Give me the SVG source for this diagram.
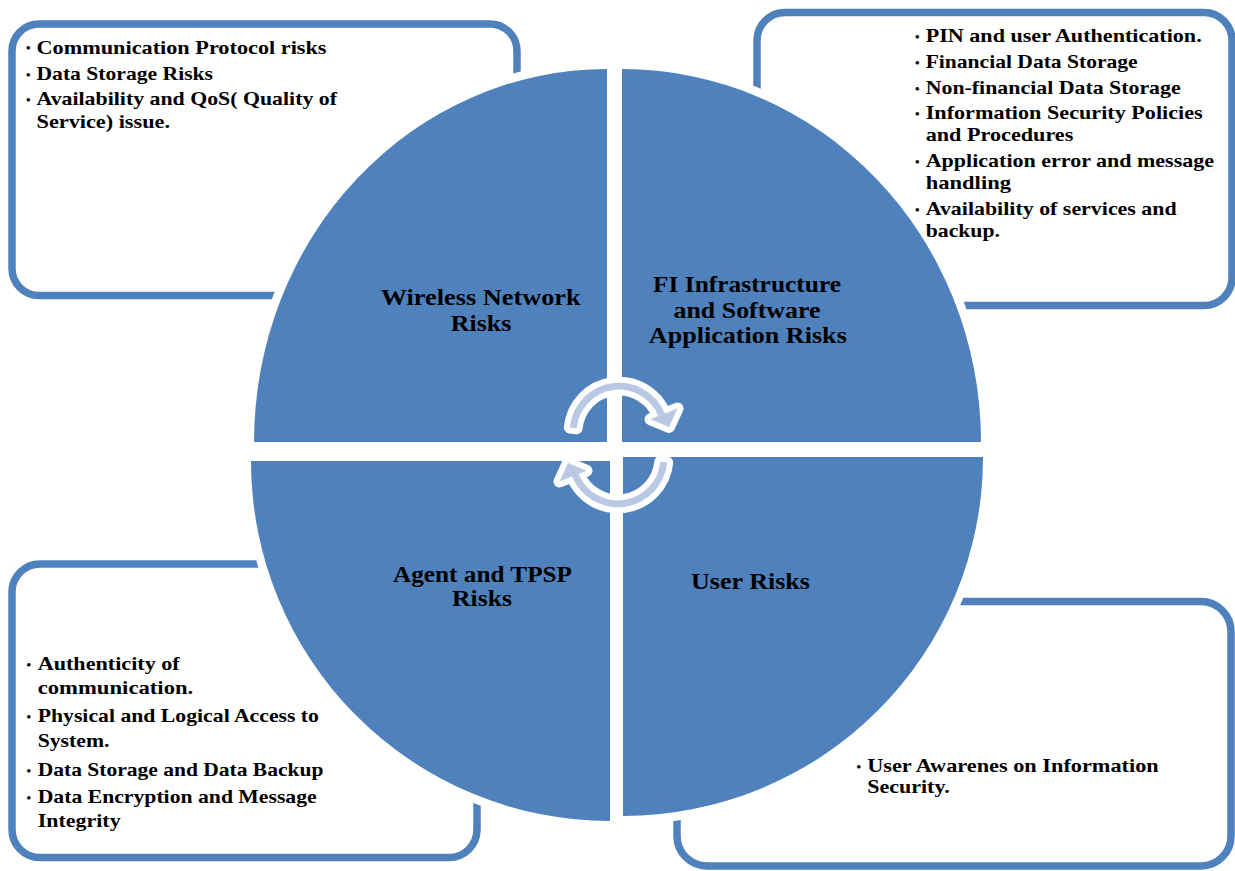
<svg xmlns="http://www.w3.org/2000/svg" xmlns:xlink="http://www.w3.org/1999/xlink" width="1235" height="871" viewBox="0 0 1235 871">
  <style>
    .box { fill: none; stroke: #4f81bd; stroke-width: 7.5; }
    .quad { fill: #4f81bd; stroke: #ffffff; stroke-width: 17; paint-order: stroke; stroke-linejoin: miter; }
    .arrow { fill: #b9c9e3; stroke: #ffffff; stroke-width: 12; paint-order: stroke; stroke-linejoin: round; }
    .item { font-family: "Liberation Serif", "Times New Roman", serif; font-weight: bold; font-size: 19px; fill: #000000; }
    .dot { font-family: "Liberation Serif", "Times New Roman", serif; font-weight: bold; font-size: 13px; fill: #000000; }
    .label { font-family: "Liberation Serif", "Times New Roman", serif; font-weight: bold; font-size: 23px; fill: #000000; text-anchor: middle; }
  </style>

  <defs>
    <!-- quarter segments of the hub (geometry only) -->
    <path id="seg-tl" d="M 607 442 L 254 442 A 353 373 0 0 1 607 69 Z"/>
    <path id="seg-tr" d="M 622 442 L 622 69 A 359 373 0 0 1 981 442 Z"/>
    <path id="seg-bl" d="M 610 461 L 610 821 A 359 360 0 0 1 251 461 Z"/>
    <path id="seg-br" d="M 623 457 L 983 457 A 360 359 0 0 1 623 816 Z"/>
    <!-- curved arrow, clockwise over the top -->
    <path id="cycle-arrow" d="M 569.8 427.5 A 49.5 49.5 0 0 1 664.9 413.5 L 677.5 408.5 L 669 427 L 650.5 419.3 L 658.4 416.1 A 42.5 42.5 0 0 0 576.7 428.2 Z"/>
    <!-- hides box outlines under the hub and its white rim -->
    <mask id="outside-hub" maskUnits="userSpaceOnUse" x="0" y="0" width="1235" height="871">
      <rect width="1235" height="871" fill="#ffffff"/>
      <g fill="#000000" stroke="#000000" stroke-width="17">
        <use href="#seg-tl" xlink:href="#seg-tl"/>
        <use href="#seg-tr" xlink:href="#seg-tr"/>
        <use href="#seg-bl" xlink:href="#seg-bl"/>
        <use href="#seg-br" xlink:href="#seg-br"/>
      </g>
    </mask>
  </defs>

  <rect width="1235" height="871" fill="#ffffff"/>

  <!-- four quarter segments of the cycle -->
  <g id="quad-wireless">
    <use class="quad" href="#seg-tl" xlink:href="#seg-tl"/>
    <text class="label" x="480.7" y="305" textLength="200" lengthAdjust="spacingAndGlyphs">Wireless Network</text>
    <text class="label" x="481" y="330.7" textLength="60.5" lengthAdjust="spacingAndGlyphs">Risks</text>
  </g>

  <g id="quad-infrastructure">
    <use class="quad" href="#seg-tr" xlink:href="#seg-tr"/>
    <text class="label" x="747" y="291.7" textLength="188" lengthAdjust="spacingAndGlyphs">FI Infrastructure</text>
    <text class="label" x="747" y="318.3" textLength="147" lengthAdjust="spacingAndGlyphs">and Software</text>
    <text class="label" x="747.8" y="343.3" textLength="198" lengthAdjust="spacingAndGlyphs">Application Risks</text>
  </g>

  <g id="quad-agent">
    <use class="quad" href="#seg-bl" xlink:href="#seg-bl"/>
    <text class="label" x="482.5" y="581.7" textLength="179" lengthAdjust="spacingAndGlyphs">Agent and TPSP</text>
    <text class="label" x="482" y="606" textLength="60" lengthAdjust="spacingAndGlyphs">Risks</text>
  </g>

  <g id="quad-user">
    <use class="quad" href="#seg-br" xlink:href="#seg-br"/>
    <text class="label" x="750.5" y="589" textLength="119" lengthAdjust="spacingAndGlyphs">User Risks</text>
  </g>

  <!-- corner boxes with bullet lists -->
  <g id="box-wireless">
    <rect class="box" x="12" y="24" width="505" height="271.5" rx="27" mask="url(#outside-hub)"/>
    <text class="dot" x="26" y="52">•</text>
    <text class="item" x="36.5" y="53.5" textLength="290" lengthAdjust="spacingAndGlyphs">Communication Protocol risks</text>
    <text class="dot" x="26" y="79">•</text>
    <text class="item" x="36.5" y="80" textLength="176.5" lengthAdjust="spacingAndGlyphs">Data Storage Risks</text>
    <text class="dot" x="26" y="104">•</text>
    <text class="item" x="36.5" y="105" textLength="300.5" lengthAdjust="spacingAndGlyphs">Availability and QoS( Quality of</text>
    <text class="item" x="36.5" y="127.5" textLength="133.5" lengthAdjust="spacingAndGlyphs">Service) issue.</text>
  </g>

  <g id="box-infrastructure">
    <rect class="box" x="757" y="12.5" width="475" height="293" rx="28" mask="url(#outside-hub)"/>
    <text class="dot" x="915" y="41">•</text>
    <text class="item" x="925.7" y="42.3" textLength="276" lengthAdjust="spacingAndGlyphs">PIN and user Authentication.</text>
    <text class="dot" x="915" y="67">•</text>
    <text class="item" x="925.7" y="68.3" textLength="212" lengthAdjust="spacingAndGlyphs">Financial Data Storage</text>
    <text class="dot" x="915" y="93">•</text>
    <text class="item" x="925.7" y="94.3" textLength="255" lengthAdjust="spacingAndGlyphs">Non-financial Data Storage</text>
    <text class="dot" x="915" y="118">•</text>
    <text class="item" x="925.7" y="119" textLength="277" lengthAdjust="spacingAndGlyphs">Information Security Policies</text>
    <text class="item" x="925.7" y="141" textLength="147.6" lengthAdjust="spacingAndGlyphs">and Procedures</text>
    <text class="dot" x="915" y="165.5">•</text>
    <text class="item" x="925.7" y="166.7" textLength="288.3" lengthAdjust="spacingAndGlyphs">Application error and message</text>
    <text class="item" x="925.7" y="189.3" textLength="85.3" lengthAdjust="spacingAndGlyphs">handling</text>
    <text class="dot" x="915" y="214">•</text>
    <text class="item" x="925.7" y="215" textLength="251" lengthAdjust="spacingAndGlyphs">Availability of services and</text>
    <text class="item" x="925.7" y="236.7" textLength="74.3" lengthAdjust="spacingAndGlyphs">backup.</text>
  </g>

  <g id="box-agent">
    <rect class="box" x="12" y="564" width="465" height="293.5" rx="28" mask="url(#outside-hub)"/>
    <text class="dot" x="26.5" y="669">•</text>
    <text class="item" x="37.7" y="670" textLength="142" lengthAdjust="spacingAndGlyphs">Authenticity of</text>
    <text class="item" x="37.7" y="694" textLength="155.6" lengthAdjust="spacingAndGlyphs">communication.</text>
    <text class="dot" x="26.5" y="721">•</text>
    <text class="item" x="37.7" y="722.3" textLength="281.3" lengthAdjust="spacingAndGlyphs">Physical and Logical Access to</text>
    <text class="item" x="37.7" y="747.3" textLength="71.7" lengthAdjust="spacingAndGlyphs">System.</text>
    <text class="dot" x="26.5" y="774.5">•</text>
    <text class="item" x="37.7" y="775.7" textLength="285.7" lengthAdjust="spacingAndGlyphs">Data Storage and Data Backup</text>
    <text class="dot" x="26.5" y="802">•</text>
    <text class="item" x="37.7" y="803.3" textLength="279" lengthAdjust="spacingAndGlyphs">Data Encryption and Message</text>
    <text class="item" x="37.7" y="827.3" textLength="83" lengthAdjust="spacingAndGlyphs">Integrity</text>
  </g>

  <g id="box-user">
    <rect class="box" x="677" y="601.5" width="554" height="264.5" rx="30" mask="url(#outside-hub)"/>
    <text class="dot" x="856.5" y="770.5">•</text>
    <text class="item" x="867.2" y="771.7" textLength="291.5" lengthAdjust="spacingAndGlyphs">User Awarenes on Information</text>
    <text class="item" x="867.2" y="793.3" textLength="82.5" lengthAdjust="spacingAndGlyphs">Security.</text>
  </g>

  <!-- circular arrows at the hub -->
  <g id="connectors">
    <use id="arrow-cw-top" class="arrow" href="#cycle-arrow" xlink:href="#cycle-arrow"/>
    <use id="arrow-cw-bottom" class="arrow" href="#cycle-arrow" xlink:href="#cycle-arrow" transform="rotate(180 618.5 445)"/>
  </g>
</svg>
